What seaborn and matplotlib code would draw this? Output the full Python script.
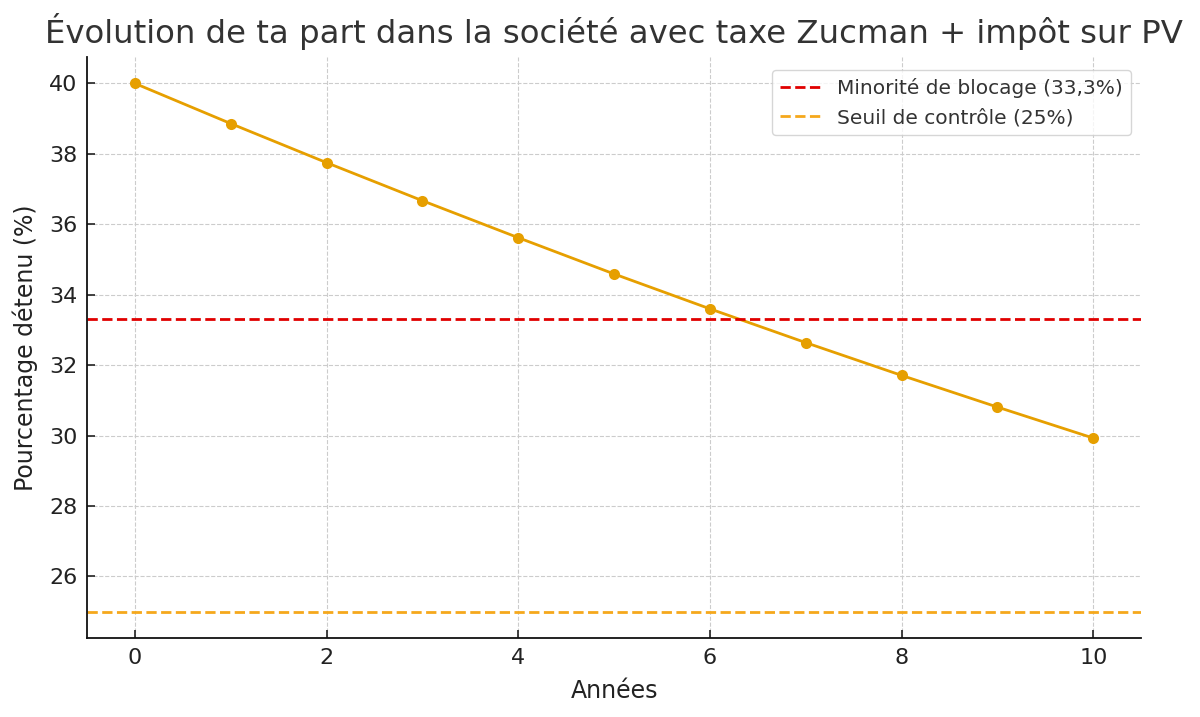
import matplotlib
matplotlib.use("Agg")
import matplotlib.pyplot as plt
import seaborn as sns
import pandas as pd

years = [0, 1, 2, 3, 4, 5, 6, 7, 8, 9, 10]
share = [40.0, 38.86, 37.75, 36.67, 35.62, 34.59, 33.60, 32.64, 31.71, 30.81, 29.93]
blocking_minority = 33.3
control_threshold = 25.0
title = "Évolution de ta part dans la société avec taxe Zucman + impôt sur PV"
xlabel = "Années"
ylabel = "Pourcentage détenu (%)"
label_blocking = "Minorité de blocage (33,3%)"
label_control = "Seuil de contrôle (25%)"

df = pd.DataFrame({"Années": years, "Part": share})

sns.set_theme(style="whitegrid")
plt.rcParams["font.family"] = ["DejaVu Sans"]

fig = plt.figure(figsize=(12, 7.17), dpi=100)
ax = fig.add_axes([0.0725, 0.110, 0.8785, 0.8105])

sns.lineplot(data=df, x="Années", y="Part", ax=ax, color="#E69F00",
             marker="o", markersize=8, markeredgewidth=0, linewidth=2)
ax.axhline(blocking_minority, color="#E00000", linestyle="--", linewidth=2,
           label=label_blocking)
ax.axhline(control_threshold, color="#F5A81C", linestyle="--", linewidth=2,
           label=label_control)

ax.set_title(title, fontsize=23.3, color="#333333", pad=10)
ax.set_xlabel(xlabel, fontsize=17, color="#222222", labelpad=8)
ax.set_ylabel(ylabel, fontsize=17, color="#222222", labelpad=8)
ax.tick_params(axis="both", labelsize=16, colors="#222222", direction="in",
               length=6, width=1.2, pad=7, left=True, bottom=True)

ax.grid(True, linestyle="--", color="#cccccc", linewidth=0.8)
for s in ["top", "right"]:
    ax.spines[s].set_visible(False)
for s in ["left", "bottom"]:
    ax.spines[s].set_color("#111111")
    ax.spines[s].set_linewidth(1.3)

ax.set_xticks([0, 2, 4, 6, 8, 10])
ax.set_yticks([26, 28, 30, 32, 34, 36, 38, 40])

leg = ax.legend(loc="upper right", fontsize=14.5, frameon=True,
                bbox_to_anchor=(0.9995, 0.995))
leg.get_frame().set_edgecolor("#cccccc")
for t in leg.get_texts():
    t.set_color("#333333")

fig.savefig("out.png", dpi=100)
